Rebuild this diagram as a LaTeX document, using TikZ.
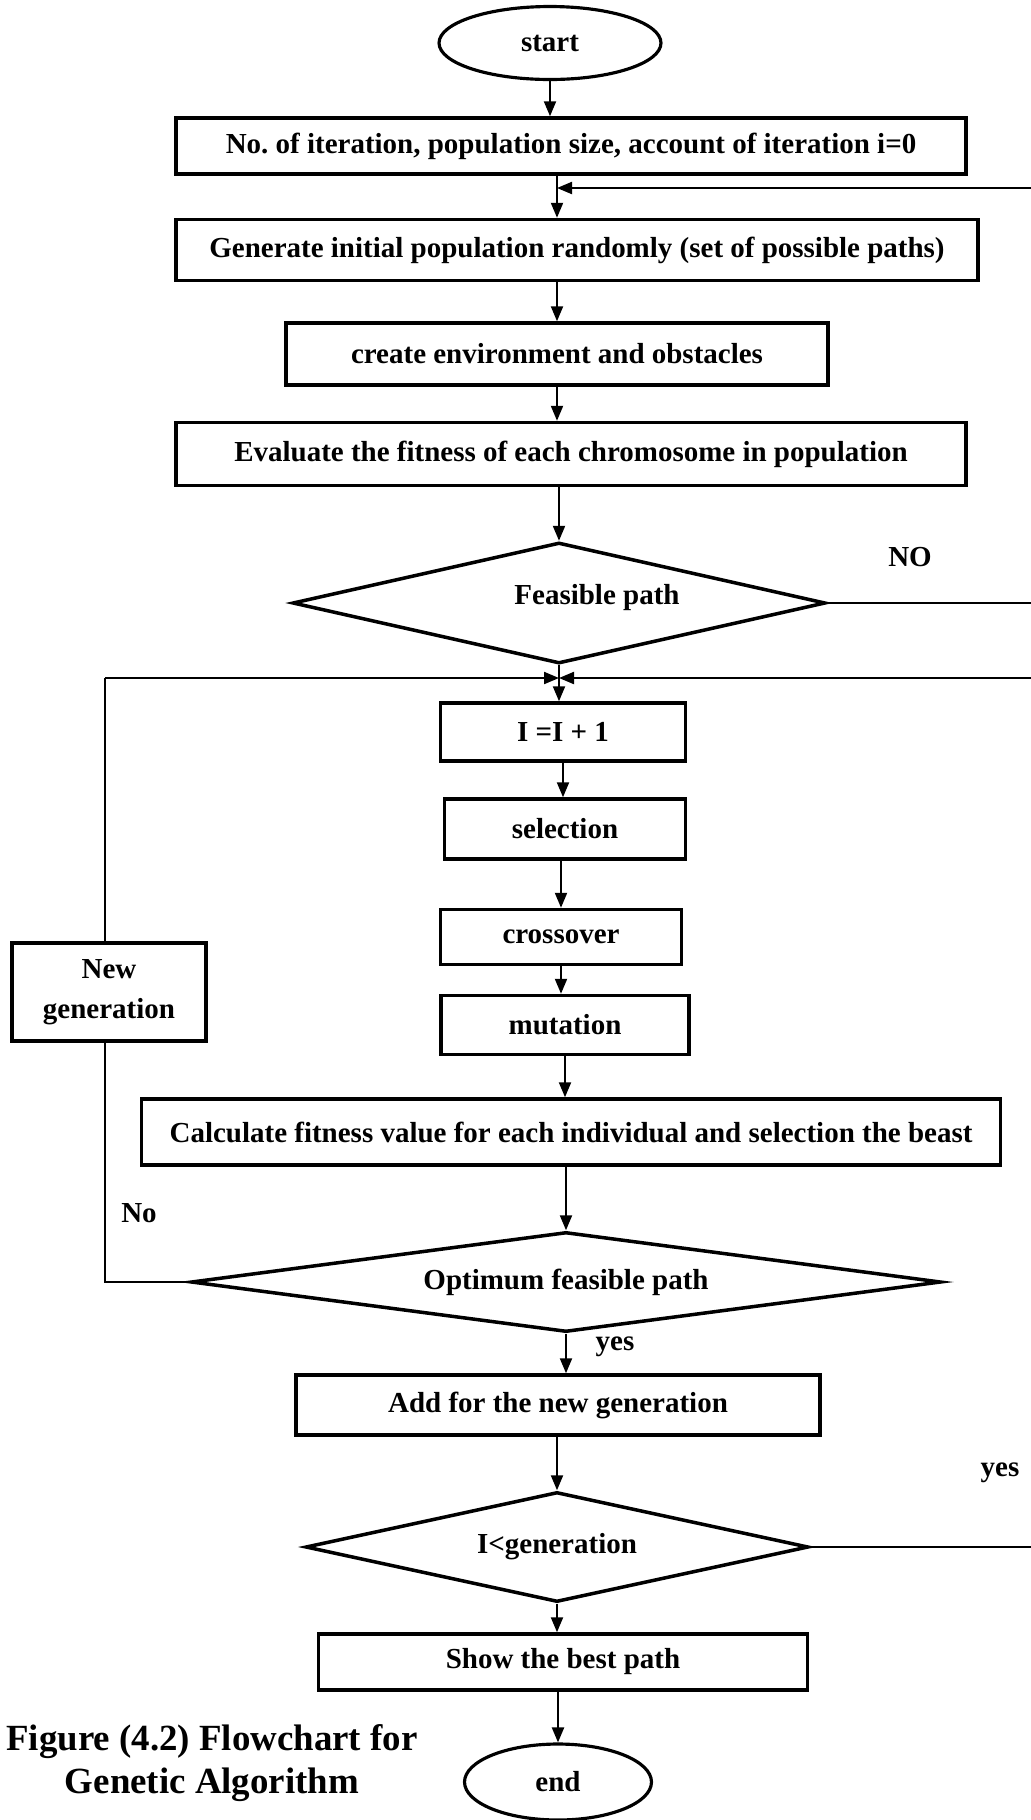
\documentclass[tikz,border=0pt]{standalone}
\usepackage{fontspec}
\setmainfont{Liberation Serif}
\usetikzlibrary{shapes.geometric,arrows.meta}
\begin{document}
\begin{tikzpicture}[x=0.02cm,y=-0.02cm,
  font=\fontsize{16.5}{22.7}\selectfont\bfseries,
  box/.style={draw,line width=2pt,rectangle,inner sep=0pt,align=center},
  term/.style={draw,line width=1.8pt,ellipse,inner sep=0pt},
  dec/.style={draw,line width=2pt,diamond,inner sep=0pt,aspect=4},
  arr/.style={line width=1.2pt,-{Triangle[length=0.3cm,width=0.24cm]}},
  ln/.style={line width=1.4pt}]
  \useasboundingbox (0,0) rectangle (1031,1820);
  %%%%%%%%%%%%%The main column%%%%%%%%%%%%%%%%%%%%%%
  \node[term,minimum width=4.44cm,minimum height=1.46cm] (start) at (550,43) {start};
  \node[box,minimum width=15.8cm,minimum height=1.12cm] (init) at (571,146) {No.\ of iteration, population size, account of iteration i=0};
  \node[box,minimum width=16.04cm,minimum height=1.22cm] (pop) at (577,250) {Generate initial population randomly (set of possible paths)};
  \node[box,minimum width=10.84cm,minimum height=1.24cm] (env) at (557,354) {create environment and obstacles};
  \node[box,minimum width=15.8cm,minimum height=1.26cm] (eval) at (571,454) {Evaluate the fitness of each chromosome in population};
  \node[dec,minimum width=10.66cm,minimum height=2.42cm,label={[xshift=0.76cm,yshift=0.1cm]center:Feasible path}] (feas) at (559,603) {};
  \node[box,minimum width=4.9cm,minimum height=1.16cm] (inc) at (563,732) {I =I + 1};
  \node[box,minimum width=4.82cm,minimum height=1.2cm] (sel) at (565,829) {selection};
  \node[box,minimum width=4.82cm,minimum height=1.1cm] (cross) at (561,937) {crossover};
  \node[box,minimum width=4.96cm,minimum height=1.18cm] (mut) at (565,1025) {mutation};
  \node[box,minimum width=17.18cm,minimum height=1.32cm] (calc) at (571,1132) {Calculate fitness value for each individual and selection the beast};
  \node[dec,aspect=7.5,minimum width=15cm,minimum height=2cm] (opt) at (566,1282) {Optimum feasible path};
  \node[box,minimum width=3.88cm,minimum height=1.96cm] (newgen) at (109,992) {New\\generation};
  \node[box,minimum width=10.48cm,minimum height=1.2cm] (add) at (558,1405) {Add for the new generation};
  \node[dec,aspect=4.5,minimum width=10.06cm,minimum height=2.2cm] (less) at (557,1547) {I<generation};
  \node[box,minimum width=9.78cm,minimum height=1.12cm] (show) at (563,1662) {Show the best path};
  \node[term,minimum width=3.74cm,minimum height=1.52cm] (end) at (558,1782) {end};

  %%%%%%%%%%%%%Labels%%%%%%%%%%%%%%%%%%%%%%
  \node (no1) at (910,557) {NO};
  \node (no2) at (139,1213) {No};
  \node (yes1) at (615,1347) {yes};
  \node (yes2) at (1000,1473) {yes};
  \node[font=\fontsize{21}{24}\selectfont\bfseries,align=center] (cap) at (212,1763) {Figure (4.2) Flowchart for\\Genetic Algorithm};

  %%%%%%%%%%%%%Connectors%%%%%%%%%%%%%%%%%%%%%%
  \coordinate (r1) at (1031,188);
  \coordinate (j1) at (557,188);
  \coordinate (m) at (559,678);
  \coordinate (ml) at (105,678);
  \coordinate (mr) at (1031,678);

  \draw[arr] (start.south) -- (start.south |- init.north);
  \draw[arr] (init.south -| j1) -- (j1 |- pop.north);
  \draw[arr] (r1) -- (j1);
  \draw[arr] (pop.south -| env.north) -- (env.north);
  \draw[arr] (env.south) -- (env.south |- eval.north);
  \draw[arr] (eval.south -| feas.north) -- (feas.north);
  \draw[ln] (feas.east) -- (feas.east -| r1);
  \draw[arr] (feas.south) -- (feas.south |- inc.north);
  \draw[arr] (ml) -- (m);
  \draw[arr] (mr) -- (m);
  \draw[arr] (inc.south) -- (inc.south |- sel.north);
  \draw[arr] (sel.south -| cross.north) -- (cross.north);
  \draw[arr] (cross.south) -- (cross.south |- mut.north);
  \draw[arr] (mut.south) -- (mut.south |- calc.north);
  \draw[arr] (calc.south -| opt.north) -- (opt.north);
  \draw[ln] (opt.west) -| (newgen.south -| ml);
  \draw[ln] (newgen.north -| ml) -- (ml);
  \draw[arr] (opt.south) -- (opt.south |- add.north);
  \draw[arr] (add.south -| less.north) -- (less.north);
  \draw[ln] (less.east) -- (less.east -| r1);
  \draw[arr] (less.south) -- (less.south |- show.north);
  \draw[arr] (show.south -| end.north) -- (end.north);
\end{tikzpicture}
\end{document}
